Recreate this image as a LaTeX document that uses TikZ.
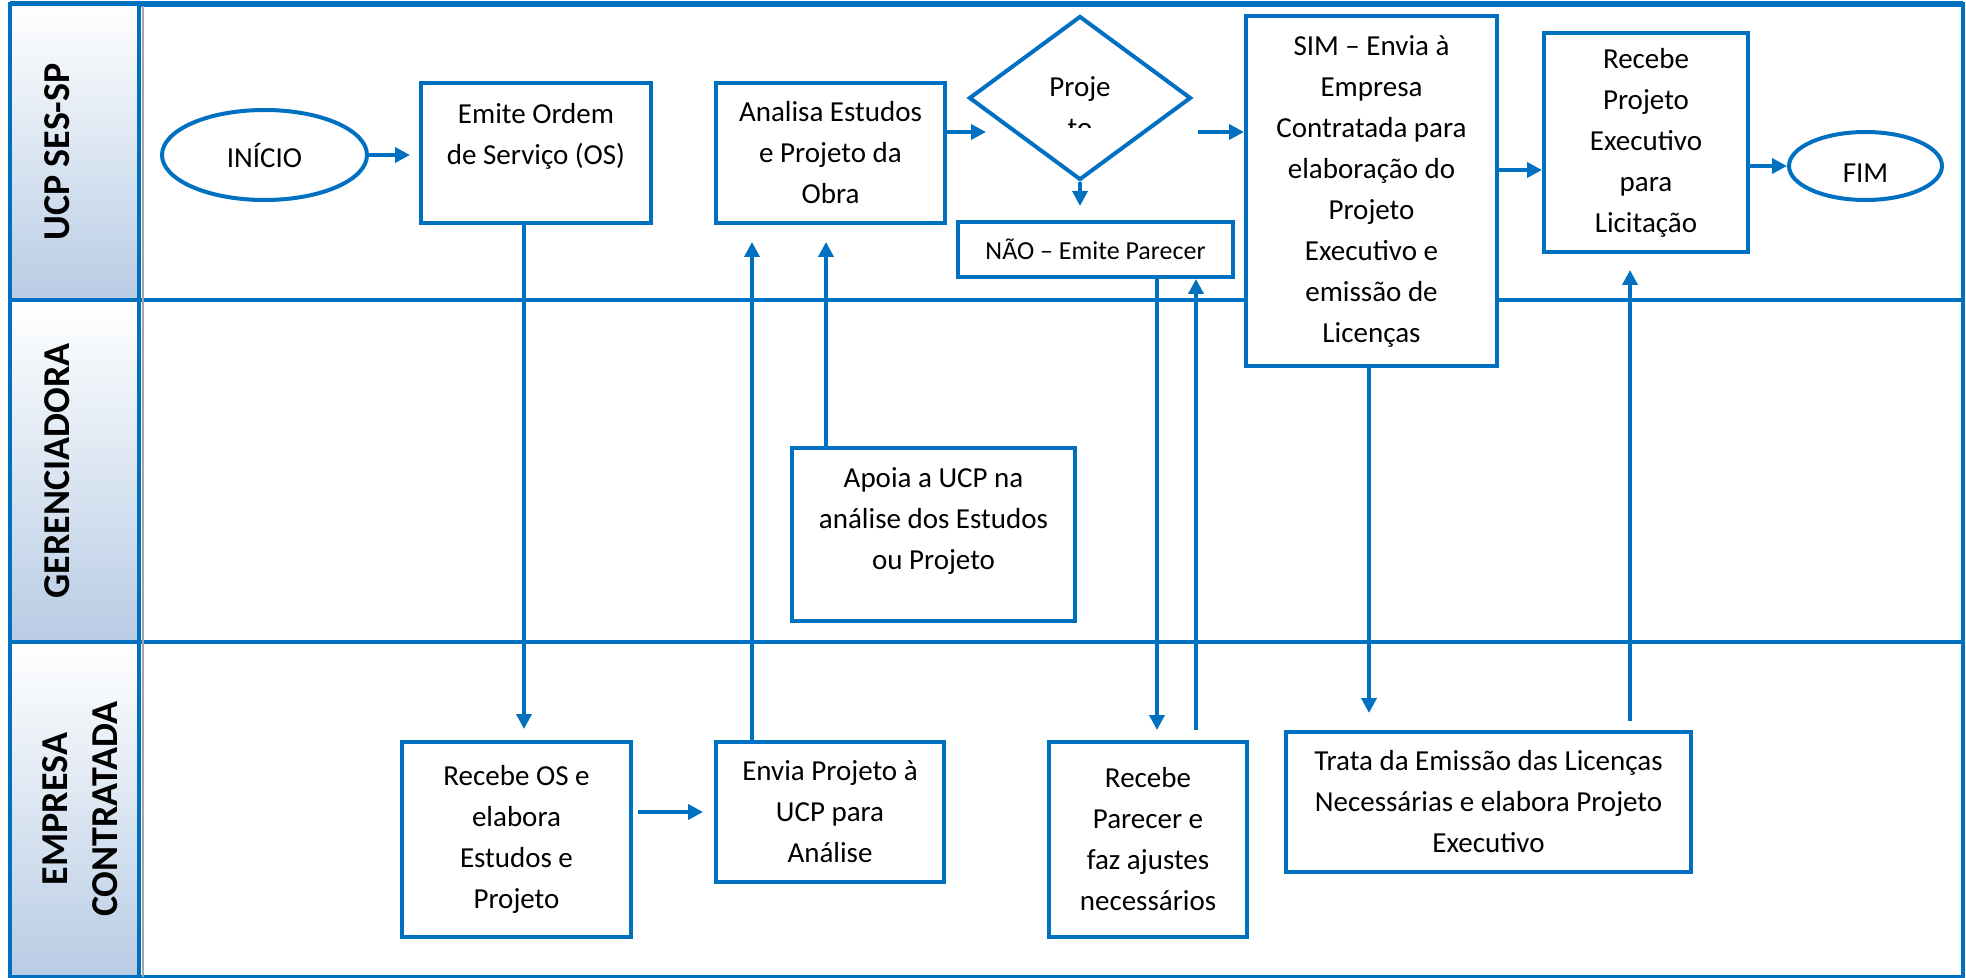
\documentclass[tikz,border=0pt]{standalone}
\usepackage{fontspec}
\setmainfont{Carlito}
\usetikzlibrary{arrows.meta,shapes.geometric,calc}
\definecolor{bl}{RGB}{0,112,192}
\definecolor{hdr}{RGB}{184,204,228}
\begin{document}
\begin{tikzpicture}[x=0.5pt,y=-0.5pt,
  box/.style={draw=bl,line width=2pt,fill=white,align=center,inner sep=0pt,font=\fontsize{14.5}{20.5}\selectfont},
  txt/.style={align=center,inner sep=0pt,font=\fontsize{14.5}{20.5}\selectfont},
  arr/.style={draw=bl,line width=1.8pt,-{Triangle[length=7.5pt,width=7.5pt]}},
  frame/.style={draw=bl,line width=2pt},
  hdrbox/.style={draw=bl,line width=2pt,top color=white,bottom color=hdr},
  hdrtxt/.style={rotate=90,font=\fontsize{19}{25}\selectfont\bfseries,align=center,inner sep=0pt},
]
\useasboundingbox (0,0) rectangle (1966,978);
% lanes
\draw[frame] (10,4) rectangle (1963,977);
\draw[bl,line width=3pt] (10,4) -- (1963,4);
\draw[frame] (10,300) -- (1963,300);
\draw[frame] (10,642) -- (1963,642);
\path[hdrbox] (10,4) rectangle (139,300);
\path[hdrbox] (10,300) rectangle (139,642);
\path[hdrbox] (10,642) rectangle (139,977);
\draw[gray!70,line width=1.2pt] (143,6) -- (143,977);
\node[hdrtxt] (h1) at (57.5,152) {UCP SES-SP};
\node[hdrtxt] (h2) at (57.5,471) {GERENCIADORA};
\node[hdrtxt] (h3) at (80.5,809) {EMPRESA\\CONTRATADA};
% nodes
\node[box,ellipse,minimum width=102.5pt,minimum height=45pt] (inicio) at (264.5,155) {INÍCIO};
\node[box,minimum width=115pt,minimum height=70pt] (emite) at (536,153) {};
\node[txt] (emitetxt) at (536,136) {Emite Ordem\\de Serviço (OS)};
\node[box,minimum width=114.5pt,minimum height=70pt] (analisa) at (830.5,153) {Analisa Estudos\\e Projeto da\\Obra};
\node[box,diamond,minimum width=111pt,minimum height=82pt] (dia) at (1080,98) {};
\begin{scope}
\clip (1000,60) rectangle (1160,128);
\node[txt] (diatxt) at (1080,107.5) {Proje\\to};
\end{scope}
\node[box,minimum width=137.5pt,minimum height=27.5pt,font=\fontsize{13}{16}\selectfont] (nao) at (1095.5,249.5) {NÃO – Emite Parecer};
\node[box,minimum width=125.5pt,minimum height=175pt] (sim) at (1371.5,191) {SIM – Envia à\\Empresa\\Contratada para\\elaboração do\\Projeto\\Executivo e\\emissão de\\Licenças};
\node[box,minimum width=102pt,minimum height=109.5pt] (recproj) at (1646,142.5) {Recebe\\Projeto\\Executivo\\para\\Licitação};
\node[box,ellipse,minimum width=76.5pt,minimum height=34pt] (fim) at (1865.5,166) {};
\node[txt] (fimtxt) at (1865.5,173) {FIM};
\node[box,minimum width=141.5pt,minimum height=86.5pt] (apoia) at (933.5,534.5) {};
\node[txt] (apoiatxt) at (933.5,521) {Apoia a UCP na\\análise dos Estudos\\ou Projeto};
\node[box,minimum width=114.5pt,minimum height=97.5pt] (recos) at (516.5,839.5) {Recebe OS e\\elabora\\Estudos e\\Projeto};
\node[box,minimum width=114pt,minimum height=70pt] (envia) at (830,812) {Envia Projeto à\\UCP para\\Análise};
\node[box,minimum width=99pt,minimum height=97.5pt] (recpar) at (1148,839.5) {Recebe\\Parecer e\\faz ajustes\\necessários};
\node[box,minimum width=202.5pt,minimum height=70pt] (trata) at (1488.5,802) {Trata da Emissão das Licenças\\Necessárias e elabora Projeto\\Executivo};
% helper coordinates
\coordinate (xA) at (524,0);
\coordinate (xB) at (752,0);
\coordinate (xC) at (826,0);
\coordinate (xD) at (1157,0);
\coordinate (xE) at (1196,0);
\coordinate (xF) at (1369,0);
\coordinate (xG) at (1630,0);
\coordinate (yA) at (0,132);
\coordinate (yB) at (0,170);
% connectors
\draw[arr] (inicio.east) -- ($(emite.west |- inicio.east)+(-9,0)$);
\draw[arr] (analisa.east |- yA) -- ($(dia.west |- yA)+(19,0)$);
\draw[arr] ($(dia.east |- yA)+(5,0)$) -- (sim.west |- yA);
\draw[arr] (dia.south) -- ($(dia.south |- nao.north)+(0,-14)$);
\draw[arr] (emite.south -| xA) -- ($(recos.north -| xA)+(0,-11)$);
\draw[arr] (envia.north -| xB) -- ($(analisa.south -| xB)+(0,17)$);
\draw[arr] (apoia.north -| xC) -- ($(analisa.south -| xC)+(0,17)$);
\draw[arr] (nao.south -| xD) -- ($(recpar.north -| xD)+(0,-10)$);
\draw[arr] ($(recpar.north -| xE)+(0,-10)$) -- (nao.south -| xE);
\draw[arr] (sim.south -| xF) -- ($(trata.north -| xF)+(0,-17)$);
\draw[arr] ($(trata.north -| xG)+(0,-9)$) -- ($(recproj.south -| xG)+(0,16)$);
\draw[arr] (sim.east |- yB) -- (recproj.west |- yB);
\draw[arr] (recproj.east |- fim.west) -- (fim.west);
\draw[arr] ($(recos.east |- envia.west)+(5,0)$) -- ($(envia.west)+(-11,0)$);
\end{tikzpicture}
\end{document}
